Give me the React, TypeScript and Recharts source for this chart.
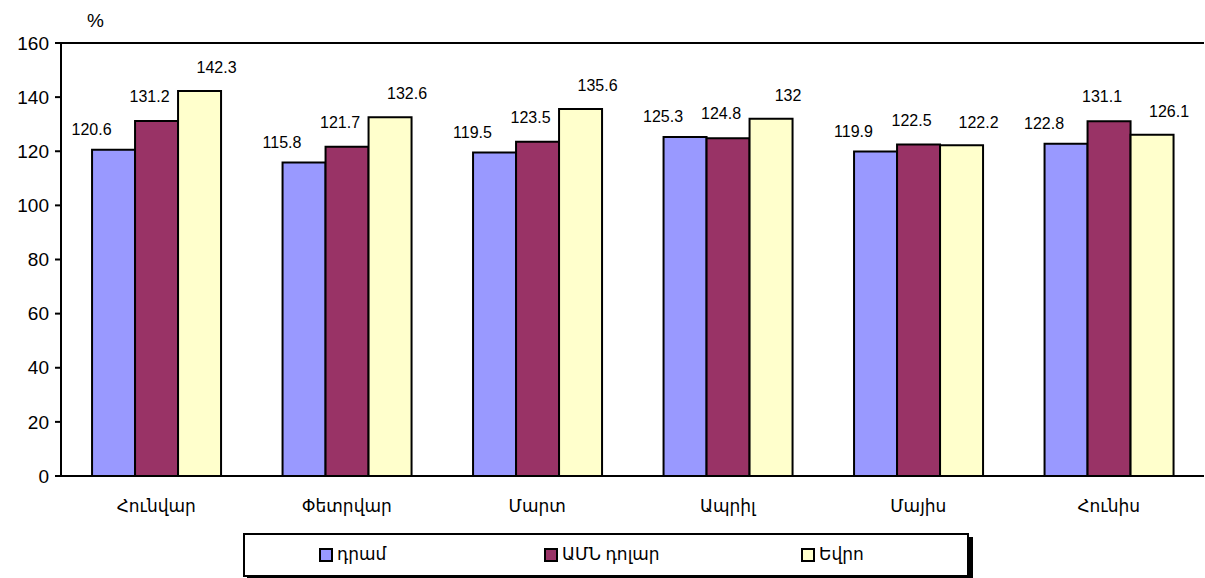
import { BarChart, Bar, XAxis, YAxis, ReferenceLine, LabelList } from 'recharts'

const months = ['Հունվար', 'Փետրվար', 'Մարտ', 'Ապրիլ', 'Մայիս', 'Հունիս']
const dram = [120.6, 115.8, 119.5, 125.3, 119.9, 122.8]
const usd = [131.2, 121.7, 123.5, 124.8, 122.5, 131.1]
const euro = [142.3, 132.6, 135.6, 132, 122.2, 126.1]
const yTicks = [0, 20, 40, 60, 80, 100, 120, 140, 160]

const seriesConfig = [
  { key: 'dram', label: 'դրամ', color: '#9999FF', dx: -22, dy: -19 },
  { key: 'usd', label: 'ԱՄՆ դոլար', color: '#993366', dx: -7, dy: -23 },
  { key: 'euro', label: 'Եվրո', color: '#FFFFCC', dx: 17, dy: -22 },
]

const font = '"Liberation Sans", Arial, "DejaVu Sans", sans-serif'

const data = months.map((month, i) => ({
  month,
  dram: dram[i],
  usd: usd[i],
  euro: euro[i],
}))

function makeLabel(dx: number, dy: number) {
  return (props: any) => {
    const { x, y, width, value } = props
    return (
      <text
        x={x + width / 2 + dx}
        y={y + dy}
        textAnchor="middle"
        dominantBaseline="middle"
        fontSize={16}
        fontFamily={font}
        fill="#000"
      >
        {value}
      </text>
    )
  }
}

export default function App() {
  return (
    <div style={{ position: 'absolute', left: 0, top: 0, width: 1205, height: 578, background: '#fff', fontFamily: font }}>
      <div style={{ position: 'absolute', left: 87, top: 10, fontSize: 19 }}>%</div>
      <BarChart
        width={1205}
        height={578}
        data={data}
        margin={{ top: 43, right: 1, left: 0, bottom: 72 }}
        barCategoryGap="16.3%"
        barGap={0}
      >
        <XAxis
          dataKey="month"
          height={30}
          axisLine={{ stroke: '#000', strokeWidth: 2 }}
          tickLine={false}
          tickMargin={18}
          tick={{ fontSize: 17, fill: '#000', fontFamily: font }}
          interval={0}
        />
        <YAxis
          domain={[0, 160]}
          ticks={yTicks}
          width={61}
          axisLine={{ stroke: '#000', strokeWidth: 2 }}
          tickLine={{ stroke: '#000', strokeWidth: 2 }}
          tickSize={6}
          tickMargin={6}
          tick={{ fontSize: 19, fill: '#000', fontFamily: font }}
          interval={0}
        />
        <YAxis
          yAxisId="right"
          orientation="right"
          width={0}
          domain={[0, 160]}
          axisLine={{ stroke: '#999', strokeWidth: 2 }}
          tickLine={false}
          tick={false}
        />
        <ReferenceLine y={160} stroke="#000" strokeWidth={2} />
        {seriesConfig.map((s) => (
          <Bar
            key={s.key}
            dataKey={s.key}
            name={s.label}
            fill={s.color}
            stroke="#000"
            strokeWidth={2}
            isAnimationActive={false}
          >
            <LabelList dataKey={s.key} content={makeLabel(s.dx, s.dy)} />
          </Bar>
        ))}
      </BarChart>
      <div
        style={{
          position: 'absolute',
          left: 243,
          top: 533,
          width: 722,
          height: 40,
          border: '2px solid #000',
          boxShadow: '4px 4px 0 #000',
          background: '#fff',
          fontSize: 17,
        }}
      >
        {seriesConfig.map((s, i) => (
          <div
            key={s.key}
            style={{
              position: 'absolute',
              left: [74, 299, 556][i],
              top: 9,
              display: 'flex',
              alignItems: 'center',
              whiteSpace: 'nowrap',
            }}
          >
            <span
              style={{
                display: 'inline-block',
                width: 10,
                height: 10,
                background: s.color,
                border: '2px solid #000',
                marginRight: 4,
              }}
            />
            {s.label}
          </div>
        ))}
      </div>
    </div>
  )
}
